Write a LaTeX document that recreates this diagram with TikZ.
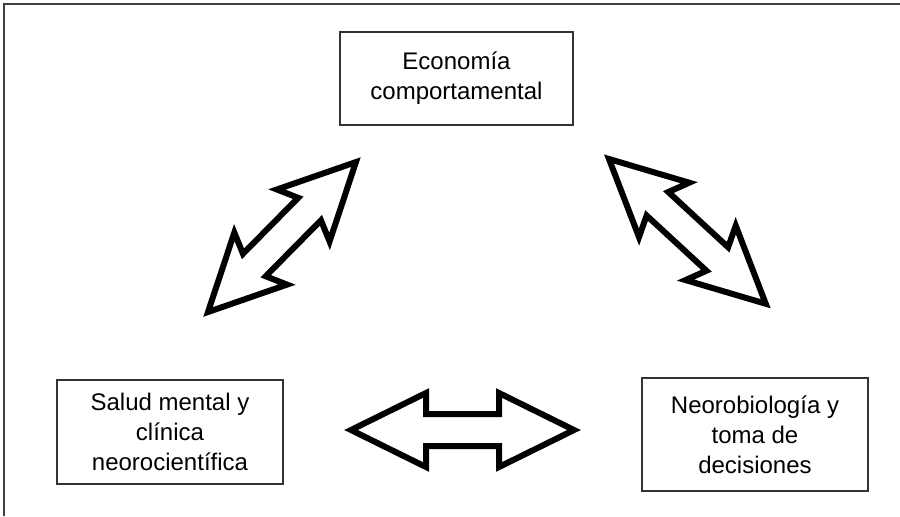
\documentclass[tikz,border=0pt]{standalone}
\usepackage{fontspec}
\setmainfont{Liberation Sans}
\usepackage{tikz}
\usetikzlibrary{calc}
\tikzset{mybox/.style={draw=black!80,line width=0.6pt,align=center,inner sep=0pt,
  font=\fontsize{12}{15}\selectfont},
myarrow/.style={draw=black,line width=3pt,line join=miter,fill=white}}
\newcommand{\twoway}[3]{%
\path let \p1=(#1), \p2=(#2), \n1={atan2(\y2-\y1,\x2-\x1)}, \n2={veclen(\x2-\x1,\y2-\y1)} in
  \pgfextra{\pgfmathsetmacro\twang{\n1}\pgfmathsetmacro\twlen{2*\n2}\xdef\twang{\twang}\xdef\twlen{\twlen}};
\begin{scope}[shift={(#1)},rotate=\twang]
\draw[myarrow] (0,0) -- (75,37) -- ({75-#3},16) -- ({\twlen-75+#3},16) -- ({\twlen-75},37)
  -- (\twlen,0) -- ({\twlen-75},-37) -- ({\twlen-75+#3},-16) -- ({75-#3},-16) -- (75,-37) -- cycle;
\end{scope}}

\begin{document}
\begin{tikzpicture}[x=0.5pt,y=0.5pt]
\useasboundingbox (0,0) rectangle (900,516);
\draw[black!75,line width=0.8pt] (4,0) -- (4,512) -- (900,512);
\node[mybox,minimum width=116.5pt,minimum height=46.5pt] (eco) at (456.5,437.5) {Economía\\comportamental};
\node[mybox,minimum width=113pt,minimum height=52pt] (salud) at (170,84) {Salud mental y\\clínica\\neorocientífica};
\node[mybox,minimum width=113pt,minimum height=56.5pt] (neuro) at (755,81.5) {Neorobiología y\\toma de\\decisiones};
\coordinate (es1) at (208,204);
\coordinate (es2) at (356,354);
\coordinate (en1) at (609,357);
\coordinate (en2) at (766,212);
\coordinate (sn1) at (351,86);
\coordinate (sn2) at (574,86);
\twoway{es1}{es2}{9}
\twoway{en1}{en2}{9}
\twoway{sn1}{sn2}{0}
\end{tikzpicture}
\end{document}
